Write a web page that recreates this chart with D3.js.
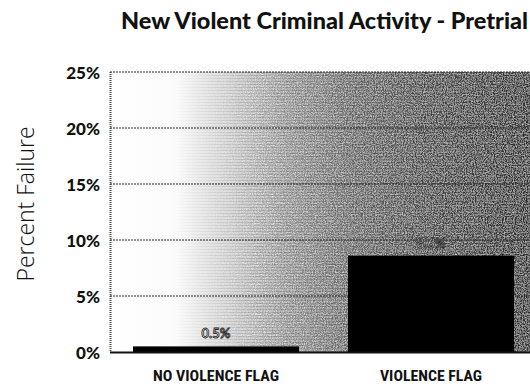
<!DOCTYPE html>
<html>
<head>
<meta charset="utf-8">
<script src="https://cdn.jsdelivr.net/npm/d3@7"></script>
<style>
  html, body { margin: 0; padding: 0; background: #fff; }
  svg { display: block; }
</style>
</head>
<body>
<svg id="chart" width="530" height="386"></svg>
<script>
// Failure rates by violence flag
const categories = ["NO VIOLENCE FLAG", "VIOLENCE FLAG"];
const failureRates = [0.5, 8.6];
const valueLabels = ["0.5%", "8.6%"];
const yTicks = [0, 5, 10, 15, 20, 25];
const yTickLabels = ["0%", "5%", "10%", "15%", "20%", "25%"];

const svg = d3.select("#chart");
const W = 530, H = 386;
const plot = { left: 110, right: 537, top: 72, bottom: 352 };

const x = d3.scaleBand()
  .domain(categories)
  .range([plot.left, plot.right])
  .paddingInner(0.228)
  .paddingOuter(0.107);

const y = d3.scaleLinear()
  .domain([0, 25])
  .range([plot.bottom, plot.top]);

// shaded backdrop: light on the left, darkening to the right
const defs = svg.append("defs");
const grad = defs.append("linearGradient")
  .attr("id", "shade")
  .attr("gradientUnits", "userSpaceOnUse")
  .attr("x1", plot.left).attr("x2", W)
  .attr("y1", 0).attr("y2", 0);
[[0, "#ffffff"], [0.16, "#fbfbfb"], [0.29, "#d2d2d2"], [0.42, "#999"],
 [0.57, "#6a6a6a"], [0.74, "#4a4a4a"], [1, "#2e2e2e"]]
  .forEach(([o, c]) => grad.append("stop").attr("offset", o).attr("stop-color", c));

// screen-print grain over the backdrop
const grain = defs.append("filter")
  .attr("id", "grain")
  .attr("x", 0).attr("y", 0).attr("width", 1).attr("height", 1);
grain.append("feTurbulence")
  .attr("type", "fractalNoise")
  .attr("baseFrequency", 0.9)
  .attr("numOctaves", 2)
  .attr("seed", 4)
  .attr("result", "noise");
grain.append("feColorMatrix")
  .attr("in", "noise")
  .attr("type", "matrix")
  .attr("values", "0 0 0 0 1  0 0 0 0 1  0 0 0 0 1  0 0 0 -2.2 1.35")
  .attr("result", "specks");
grain.append("feComposite")
  .attr("in", "specks").attr("in2", "SourceGraphic").attr("operator", "in")
  .attr("result", "lit");
grain.append("feMerge").selectAll("feMergeNode")
  .data(["SourceGraphic", "lit"]).join("feMergeNode").attr("in", d => d);

// horizontal screen lines
const pat = defs.append("pattern")
  .attr("id", "screen")
  .attr("patternUnits", "userSpaceOnUse")
  .attr("width", 3).attr("height", 3);
pat.append("rect").attr("width", 3).attr("height", 1).attr("fill", "rgba(0,0,0,0.14)");
pat.append("rect").attr("width", 1).attr("height", 3).attr("fill", "rgba(255,255,255,0.08)");

const bgMask = defs.append("linearGradient")
  .attr("id", "fadeMask")
  .attr("gradientUnits", "userSpaceOnUse")
  .attr("x1", plot.left).attr("x2", W).attr("y1", 0).attr("y2", 0);
bgMask.append("stop").attr("offset", 0.15).attr("stop-color", "#000");
bgMask.append("stop").attr("offset", 0.35).attr("stop-color", "#fff");
defs.append("mask").attr("id", "texMask")
  .append("rect")
  .attr("x", plot.left).attr("y", plot.top)
  .attr("width", W - plot.left).attr("height", plot.bottom - plot.top)
  .attr("fill", "url(#fadeMask)");

svg.append("rect")
  .attr("x", plot.left).attr("y", plot.top)
  .attr("width", W - plot.left).attr("height", plot.bottom - plot.top)
  .attr("fill", "url(#shade)");
const tex = svg.append("g").attr("mask", "url(#texMask)");
tex.append("rect")
  .attr("x", plot.left).attr("y", plot.top)
  .attr("width", W - plot.left).attr("height", plot.bottom - plot.top)
  .attr("fill", "url(#shade)")
  .attr("filter", "url(#grain)")
  .attr("opacity", 0.7);
tex.append("rect")
  .attr("x", plot.left).attr("y", plot.top)
  .attr("width", W - plot.left).attr("height", plot.bottom - plot.top)
  .attr("fill", "url(#screen)");

// horizontal gridlines
svg.append("g")
  .selectAll("line")
  .data(yTicks.filter(d => d > 0))
  .join("line")
  .attr("x1", plot.left).attr("x2", W)
  .attr("y1", d => y(d)).attr("y2", d => y(d))
  .attr("stroke", "#222")
  .attr("stroke-width", 1.2)
  .attr("stroke-dasharray", "2,1");

// left axis line (dotted)
svg.append("line")
  .attr("x1", plot.left + 0.5).attr("x2", plot.left + 0.5)
  .attr("y1", plot.top).attr("y2", plot.bottom)
  .attr("stroke", "#444")
  .attr("stroke-width", 2)
  .attr("stroke-dasharray", "1,1");

// bars
svg.append("g")
  .selectAll("rect")
  .data(categories)
  .join("rect")
  .attr("x", d => x(d))
  .attr("width", x.bandwidth())
  .attr("y", (d, i) => y(failureRates[i]))
  .attr("height", (d, i) => y(0) - y(failureRates[i]))
  .attr("fill", "#000");

// baseline
svg.append("line")
  .attr("x1", plot.left).attr("x2", W)
  .attr("y1", plot.bottom + 0.5).attr("y2", plot.bottom + 0.5)
  .attr("stroke", "#111")
  .attr("stroke-width", 2);

// y tick labels
const yAxis = d3.axisLeft(y)
  .tickValues(yTicks)
  .tickFormat((d, i) => yTickLabels[i])
  .tickSize(0)
  .tickPadding(10);
const ya = svg.append("g")
  .attr("transform", `translate(${plot.left},0)`)
  .call(yAxis);
ya.select(".domain").remove();
ya.selectAll("text")
  .attr("dy", "0.65em")
  .attr("y", -5)
  .attr("font-family", "Lato, 'Noto Sans', sans-serif")
  .attr("font-weight", 900)
  .attr("font-size", 17)
  .attr("fill", "#111");

// x category labels
const xAxis = d3.axisBottom(x).tickSize(0).tickPadding(18);
const xa = svg.append("g")
  .attr("transform", `translate(0,${plot.bottom})`)
  .call(xAxis);
xa.select(".domain").remove();
xa.selectAll("text")
  .attr("font-family", "'Liberation Sans Narrow', 'Roboto Condensed', sans-serif")
  .attr("font-weight", 700)
  .attr("font-size", 15)
  .attr("fill", "#111")
  .attr("lengthAdjust", "spacingAndGlyphs")
  .attr("textLength", (d, i) => i === 0 ? 126 : 102);

// value labels
svg.append("g")
  .selectAll("text")
  .data(categories)
  .join("text")
  .attr("x", d => x(d) + x.bandwidth() / 2)
  .attr("y", (d, i) => y(failureRates[i]) - 8)
  .attr("text-anchor", "middle")
  .attr("font-family", "Lato, sans-serif")
  .attr("font-weight", 700)
  .attr("font-size", 13)
  .attr("fill", "#e6e6e6")
  .attr("stroke", "#222")
  .attr("stroke-width", 0.8)
  .text((d, i) => valueLabels[i]);

// y axis title
svg.append("text")
  .attr("transform", "translate(34,204) rotate(-90)")
  .attr("text-anchor", "middle")
  .attr("font-family", "'Open Sans', sans-serif")
  .attr("font-weight", 300)
  .attr("font-size", 23)
  .attr("fill", "#111")
  .text("Percent Failure");

// chart title
svg.append("text")
  .attr("x", 121)
  .attr("y", 29)
  .attr("font-family", "Lato, sans-serif")
  .attr("font-weight", 900)
  .attr("font-size", 22)
  .attr("fill", "#111")
  .attr("textLength", 407)
  .attr("lengthAdjust", "spacingAndGlyphs")
  .text("New Violent Criminal Activity - Pretrial");
</script>
</body>
</html>
